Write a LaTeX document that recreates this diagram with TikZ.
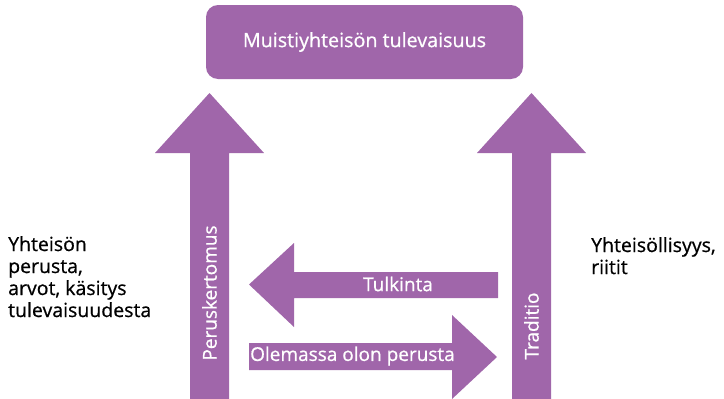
\documentclass[tikz,border=0pt]{standalone}
\usepackage{fontspec}
\setmainfont{Open Sans}[FakeBold=0.7]
\definecolor{lila}{RGB}{160,102,170}
\begin{document}
\begin{tikzpicture}[x=1pt,y=-1pt,
   lilafill/.style={fill=lila},
   inner/.style={text=white,font=\fontsize{19}{22}\selectfont},
   side/.style={align=left,anchor=north west,inner sep=0pt,
     font=\fontsize{19.5}{22}\selectfont}]

\useasboundingbox (0,0) rectangle (724,399);

% top box
\fill[lilafill,rounded corners=12pt] (206,5) rectangle (523,79);
\node[inner,font=\fontsize{19.7}{22}\selectfont] (future) at (364.5,42) {Muistiyhteisön tulevaisuus};

% upright arrows
\fill[lilafill] (190,399) -- (190,153) -- (155,153) -- (209.5,93)
   -- (264,153) -- (229,153) -- (229,399) -- cycle;
\fill[lilafill] (512,399) -- (512,153) -- (477,153) -- (531.5,93)
   -- (586,153) -- (551,153) -- (551,399) -- cycle;
\node[inner,rotate=90] (story) at (209.5,293) {Peruskertomus};
\node[inner,rotate=90] (trad) at (531.5,326) {Traditio};

% across arrows
\fill[lilafill] (498,272) -- (294,272) -- (294,243) -- (249,284.5)
   -- (294,327) -- (294,298) -- (498,298) -- cycle;
\node[inner] (tulk) at (398,284) {Tulkinta};
\fill[lilafill] (249,343) -- (452,343) -- (452,315) -- (497,357)
   -- (452,399) -- (452,370) -- (249,370) -- cycle;
\node[inner,anchor=west,inner sep=0pt] (olem) at (250,356) {Olemassa olon perusta};

% side texts
\node[side] (left) at (8,236) {Yhteisön\\perusta,\\arvot, käsitys\\tulevaisuudesta};
\node[side] (right) at (591,237) {Yhteisöllisyys,\\riitit};

\end{tikzpicture}
\end{document}
